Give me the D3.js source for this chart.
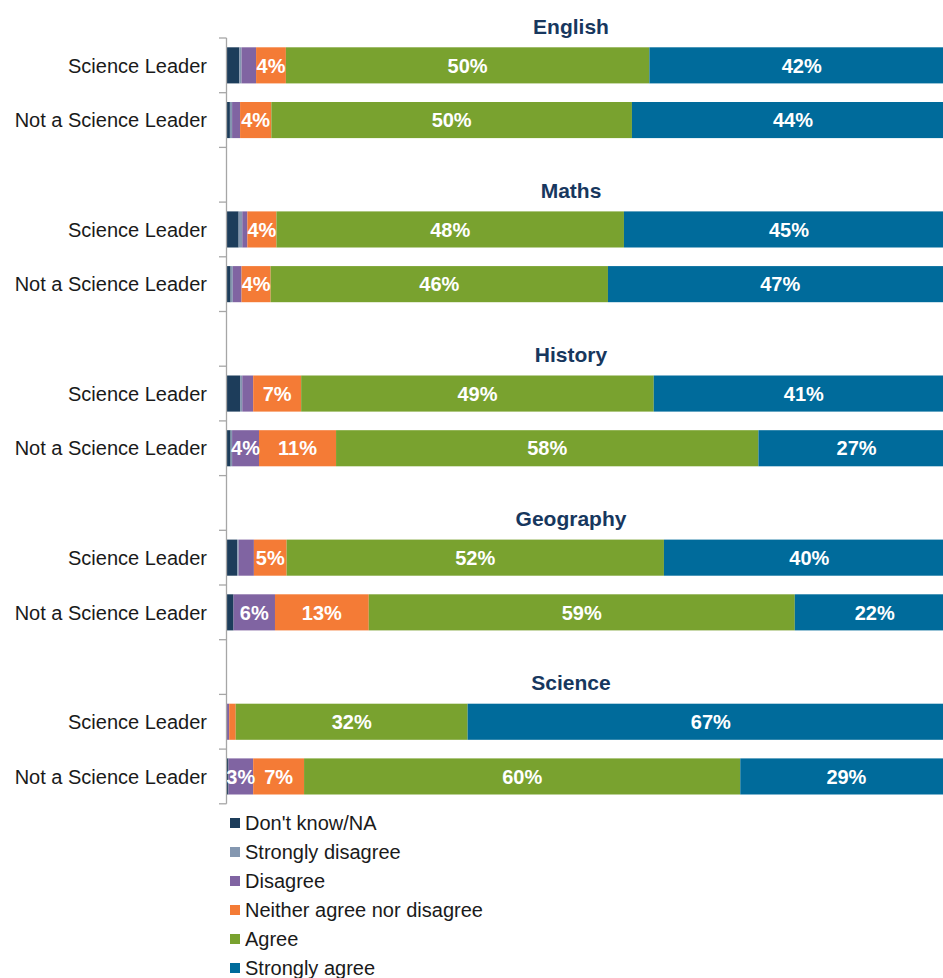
<!DOCTYPE html>
<html>
<head>
<meta charset="utf-8">
<script src="https://cdn.jsdelivr.net/npm/d3@7"></script>
<style>
  body { margin: 0; background: #fff; }
  svg { display: block; font-family: "Liberation Sans", Arial, sans-serif; }
</style>
</head>
<body>
<div id="chart"></div>
<script>
var width = 943,
    height = 978;

var subjects = ["English", "Maths", "History", "Geography", "Science"];
var groups = ["Science Leader", "Not a Science Leader"];
var responses = ["Don't know/NA", "Strongly disagree", "Disagree",
  "Neither agree nor disagree", "Agree", "Strongly agree"];
var colors = ["#1d3d5b", "#8497b0", "#8064a2", "#f47b36", "#79a22f", "#006b9b"];

// percentages, one array per response, rows in order:
// English SL, English NSL, Maths SL, Maths NSL, History SL, History NSL,
// Geography SL, Geography NSL, Science SL, Science NSL
var dontKnow        = [1.7, 0.4, 1.6, 0.5, 1.8, 0.5, 1.4, 0.9, 0.0, 0.2];
var stronglyDisagree= [0.3, 0.3, 0.5, 0.3, 0.3, 0.2, 0.2, 0.0, 0.0, 0.0];
var disagree        = [2.0, 1.1, 0.7, 1.2, 1.5, 3.7, 2.1, 5.7, 0.3, 3.4];
var neither         = [4.1, 4.3, 4.0, 4.0, 6.6, 10.6, 4.5, 12.9, 0.9, 7.0];
var agree           = [50.0, 49.6, 47.8, 46.4, 48.5, 58.1, 51.9, 58.6, 31.9, 60.0];
var stronglyAgree   = [41.9, 44.3, 45.4, 47.4, 41.3, 27.0, 40.0, 22.0, 66.9, 29.2];
var series = [dontKnow, stronglyDisagree, disagree, neither, agree, stronglyAgree];

// each subject takes three rows: title row, then the two groups
var rows = [];
subjects.forEach(function(s, i) {
  rows.push({key: s + "|title", subject: s, title: true});
  groups.forEach(function(g, j) {
    rows.push({key: s + "|" + g, subject: s, group: g, idx: i * 2 + j});
  });
});

var svg = d3.select("#chart")
  .append("svg")
    .attr("width", width)
    .attr("height", height);

var x = d3.scaleLinear()
  .domain([0, 100])
  .range([227, 954]);

var y = d3.scaleBand()
  .domain(rows.map(function(d) { return d.key; }))
  .range([-16.7, 803.8])
  .paddingInner(0.34)
  .paddingOuter(0.17);

var step = y.step();
var bounds = d3.range(1, rows.length + 1).map(function(i) { return y.range()[0] + i * step; });

// stacked data
var barRows = rows.filter(function(d) { return !d.title; });
var stacked = barRows.map(function(r) {
  var x0 = 0;
  return series.map(function(s, k) {
    var v = s[r.idx];
    var seg = {row: r, k: k, v: v, x0: x0, x1: x0 + v};
    x0 += v;
    return seg;
  });
});

var bars = svg.append("g");
stacked.forEach(function(segs) {
  bars.selectAll(null)
    .data(segs)
    .enter()
    .append("rect")
      .attr("x", function(d) { return x(d.x0); })
      .attr("y", function(d) { return y(d.row.key); })
      .attr("width", function(d) { return Math.max(0, x(d.x1) - x(d.x0)); })
      .attr("height", y.bandwidth())
      .attr("fill", function(d) { return colors[d.k]; });

  bars.selectAll(null)
    .data(segs.filter(function(d) { return d.v >= 2.5; }))
    .enter()
    .append("text")
      .attr("x", function(d) { return (x(d.x0) + x(d.x1)) / 2; })
      .attr("y", function(d) { return y(d.row.key) + y.bandwidth() / 2; })
      .attr("dy", "0.36em")
      .attr("text-anchor", "middle")
      .attr("fill", "#fff")
      .style("font-weight", "bold")
      .style("font-size", "20px")
      .text(function(d) { return Math.round(d.v) + "%"; });
});

// axis line with ticks at every row boundary
var axisG = svg.append("g")
  .attr("fill", "none")
  .attr("stroke", "#a6a6a6")
  .attr("stroke-width", 1.3);
axisG.append("path")
  .attr("d", "M226.5," + bounds[0] + "V" + bounds[bounds.length - 1]);
axisG.selectAll(null)
  .data(bounds)
  .enter()
  .append("path")
    .attr("d", function(b) { return "M219," + b + "H226.5"; });

// category labels
svg.selectAll(".cat")
  .data(barRows)
  .enter()
  .append("text")
    .attr("x", 207)
    .attr("y", function(d) { return y(d.key) + y.bandwidth() / 2; })
    .attr("dy", "0.36em")
    .attr("text-anchor", "end")
    .attr("fill", "#1a1a1a")
    .style("font-size", "20px")
    .text(function(d) { return d.group; });

// subject titles
svg.selectAll(".title")
  .data(rows.filter(function(d) { return d.title; }))
  .enter()
  .append("text")
    .attr("x", 571)
    .attr("y", function(d) { return y(d.key) - step * y.paddingInner() / 2 + step - 4; })
    .attr("text-anchor", "middle")
    .attr("fill", "#17375e")
    .style("font-weight", "bold")
    .style("font-size", "21px")
    .text(function(d) { return d.subject; });

// legend
var legend = svg.selectAll(".legend")
  .data(responses)
  .enter()
  .append("g")
    .attr("transform", function(d, i) { return "translate(230," + (823 + i * 29) + ")"; });

legend.append("rect")
  .attr("x", 0).attr("y", -5)
  .attr("width", 10).attr("height", 10)
  .attr("fill", function(d, i) { return colors[i]; });

legend.append("text")
  .attr("x", 15)
  .attr("dy", "0.36em")
  .attr("fill", "#1a1a1a")
  .style("font-size", "20px")
  .text(function(d) { return d; });
</script>
</body>
</html>
